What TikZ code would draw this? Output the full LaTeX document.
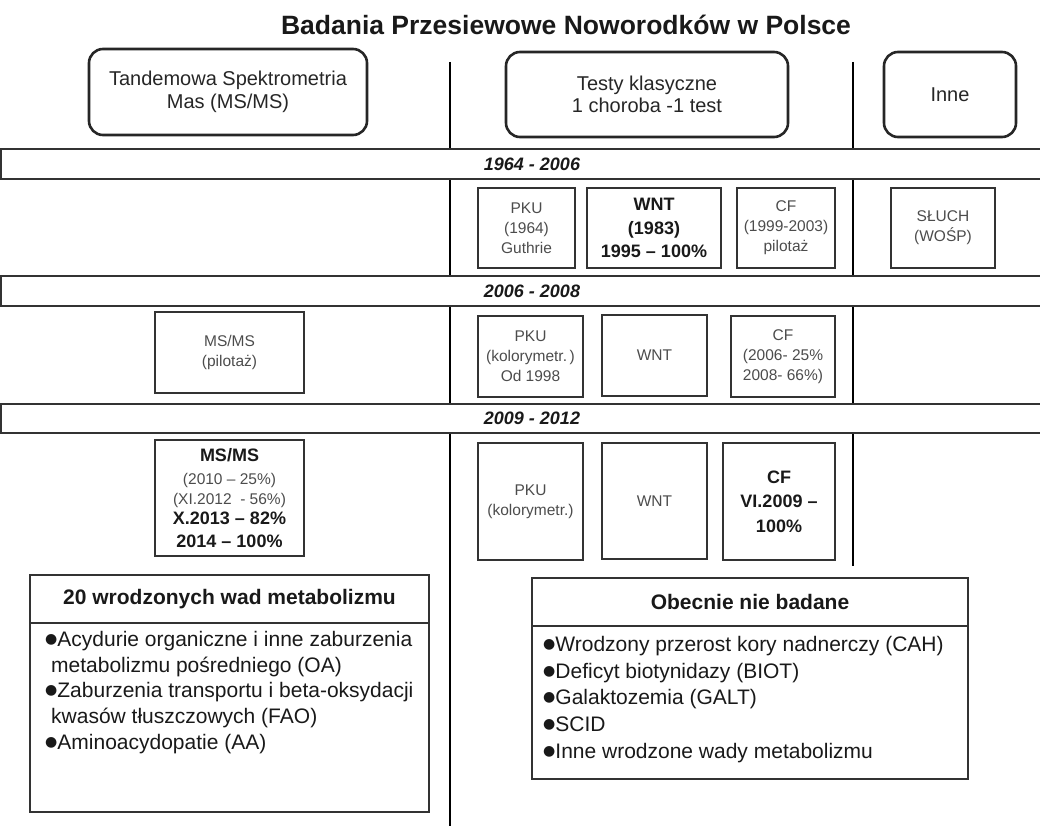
\documentclass[tikz,border=0pt]{standalone}
\usepackage{fontspec}
\setmainfont{Liberation Sans}
\newfontfamily\dejavu{DejaVu Sans}
\newcommand\blt{\raisebox{3pt}{\dejavu\fontsize{14}{14}\selectfont ●}}
\begin{document}
\begin{tikzpicture}[x=1pt,y=-1pt,
  hdrbox/.style={draw=black!85, line width=2.6pt, rounded corners=14pt, inner sep=0pt, align=center, font=\fontsize{20}{22.5}\selectfont, text=black!85},
  band/.style={draw=black!80, line width=1.8pt},
  bandtxt/.style={font=\fontsize{18}{20}\selectfont\bfseries\itshape, text=black!90},
  sbox/.style={draw=black!80, line width=1.8pt, inner sep=0pt, align=center, font=\fontsize{15.5}{20}\selectfont, text=black!70},
  bbox/.style={sbox, font=\fontsize{18}{23.5}\selectfont\bfseries, text=black!90},
  divider/.style={line width=2.6pt, draw=black},
  lhead/.style={draw=black!80, line width=1.8pt, inner sep=0pt, font=\fontsize{21}{24}\selectfont\bfseries, text=black!90},
  lbody/.style={draw=black!80, line width=1.8pt, inner sep=0pt},
  listtxt/.style={align=left, anchor=north west, inner sep=0pt, text=black!90}
]
\useasboundingbox (0,0) rectangle (1040,826);

% title
\node[font=\fontsize{26.5}{30}\selectfont\bfseries, text=black!90] (title) at (566,25) {Badania Przesiewowe Noworodków w Polsce};

% header boxes
\node[hdrbox, minimum width=278pt, minimum height=86pt] (hdrL) at (228,92) {Tandemowa Spektrometria\\Mas (MS/MS)};
\node[hdrbox, minimum width=282pt, minimum height=85pt] (hdrM) at (647,94.5) {Testy klasyczne\\1 choroba -1 test};
\node[hdrbox, minimum width=132pt, minimum height=85pt] (hdrR) at (950,94.5) {Inne};

% dividers
\draw[divider] (450,62) -- (450,149);
\draw[divider] (853,62) -- (853,149);
\draw[divider] (450,179) -- (450,276);
\draw[divider] (853,179) -- (853,276);
\draw[divider] (450,306) -- (450,404);
\draw[divider] (853,306) -- (853,404);
\draw[divider] (450,433) -- (450,826);
\draw[divider] (853,433) -- (853,566);

% bands
\draw[band] (1040,149) -- (1,149) -- (1,179) -- (1040,179);
\node[bandtxt] (b1) at (532,164) {1964 - 2006};
\draw[band] (1040,276) -- (1,276) -- (1,306) -- (1040,306);
\node[bandtxt] (b2) at (532,291) {2006 - 2008};
\draw[band] (1040,404) -- (1,404) -- (1,433) -- (1040,433);
\node[bandtxt] (b3) at (532,418) {2009 - 2012};

% row 1
\node[sbox, minimum width=97pt, minimum height=80pt] (pkuA) at (526.5,228) {PKU\\(1964)\\Guthrie};
\node[bbox, minimum width=134pt, minimum height=80pt] (wntA) at (654,228) {WNT\\(1983)\\1995 – 100\%};
\node[sbox, minimum width=98pt, minimum height=80pt] (cfA) at (786,228) {CF\\(1999-2003)\\pilotaż};
\node[sbox, minimum width=104pt, minimum height=80pt] (sluch) at (943,228) {SŁUCH\\(WOŚP)};

% row 2
\node[sbox, minimum width=149pt, minimum height=81pt] (msA) at (229.5,352.5) {MS/MS\\(pilotaż)};
\node[sbox, minimum width=105pt, minimum height=81pt] (pkuB) at (530.5,356.5) {PKU\\(kolorymetr.\,)\\Od 1998};
\node[sbox, minimum width=105pt, minimum height=81pt] (wntB) at (654.5,355.5) {WNT};
\node[sbox, minimum width=104pt, minimum height=81pt] (cfB) at (783,356.5) {CF\\(2006- 25\%\\2008- 66\%)};

% row 3
\node[sbox, minimum width=149pt, minimum height=116pt] (msB) at (229.5,498)
  {{\fontsize{18}{20}\selectfont\bfseries\color{black!90}MS/MS}\\[3pt]
   (2010 – 25\%)\\
   (XI.2012 \ - 56\%)\\
   {\fontsize{18}{20}\selectfont\bfseries\color{black!90}X.2013 – 82\%}\\[3pt]
   {\fontsize{18}{20}\selectfont\bfseries\color{black!90}2014 – 100\%}};
\node[sbox, minimum width=105pt, minimum height=117pt] (pkuC) at (530.5,501.5) {PKU\\(kolorymetr.)};
\node[sbox, minimum width=105pt, minimum height=116pt] (wntC) at (654.5,501) {WNT};
\node[bbox, minimum width=112pt, minimum height=117pt, font=\fontsize{18}{24.5}\selectfont\bfseries] (cfC) at (779,501.5) {CF\\VI.2009 –\\100\%};

% bottom left
\node[lhead, minimum width=399pt, minimum height=48pt] (lh) at (229.5,599) {20 wrodzonych wad metabolizmu};
\node[lbody, minimum width=399pt, minimum height=189pt] (lb) at (229.5,717.5) {};
\node[listtxt, font=\fontsize{21}{25.75}\selectfont] (ll) at (45,631)
  {\blt Acydurie organiczne i inne zaburzenia\\
   \hspace*{6pt}metabolizmu pośredniego (OA)\\
   \blt Zaburzenia transportu i beta-oksydacji\\
   \hspace*{6pt}kwasów tłuszczowych (FAO)\\
   \blt Aminoacydopatie (AA)};

% bottom right
\node[lhead, minimum width=436pt, minimum height=48pt] (rh) at (750,602) {Obecnie nie badane};
\node[lbody, minimum width=436pt, minimum height=153pt] (rb) at (750,702.5) {};
\node[listtxt, font=\fontsize{21}{26.75}\selectfont] (rl) at (543,636)
  {\blt Wrodzony przerost kory nadnerczy (CAH)\\
   \blt Deficyt biotynidazy (BIOT)\\
   \blt Galaktozemia (GALT)\\
   \blt SCID\\
   \blt Inne wrodzone wady metabolizmu};
\end{tikzpicture}
\end{document}
